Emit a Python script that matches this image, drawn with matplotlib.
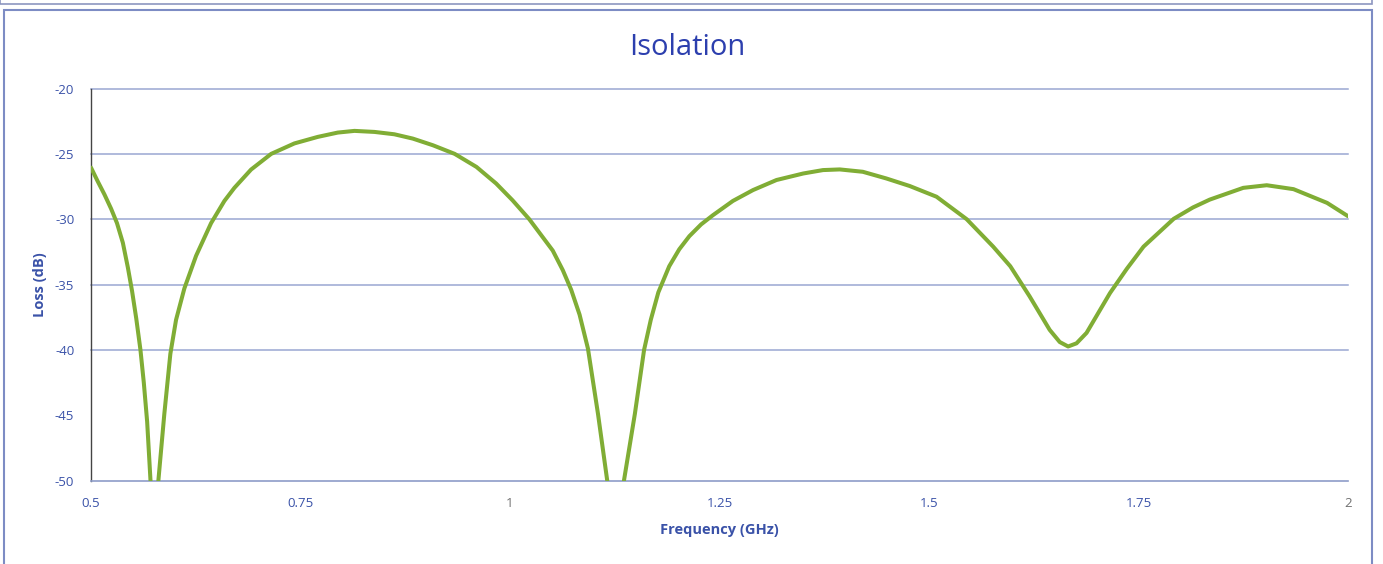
import matplotlib.pyplot as plt
from matplotlib.patches import Rectangle

# values (curve dips below -50 at the two nulls)
freq_ghz = [0.500, 0.508, 0.516, 0.524, 0.531, 0.538, 0.544, 0.549, 0.554, 0.559,
            0.563, 0.567, 0.571, 0.5755, 0.5804, 0.5875, 0.5947, 0.6015, 0.6114, 0.6254,
            0.6433, 0.6592, 0.6711, 0.691, 0.715, 0.7427, 0.7706, 0.7944, 0.8144, 0.8383,
            0.862, 0.884, 0.908, 0.934, 0.960, 0.9835, 1.003, 1.023, 1.051, 1.063,
            1.073, 1.083, 1.093, 1.105, 1.116, 1.126, 1.136, 1.149, 1.160, 1.168,
            1.177, 1.190, 1.202, 1.214, 1.228, 1.242, 1.266, 1.290, 1.318, 1.350,
            1.3735, 1.3935, 1.421, 1.449, 1.477, 1.509, 1.545, 1.5766, 1.597, 1.620,
            1.644, 1.656, 1.666, 1.676, 1.688, 1.716, 1.736, 1.756, 1.792, 1.815,
            1.835, 1.875, 1.903, 1.935, 1.975, 2.000]
loss_db = [-26.05, -27.1, -28.1, -29.2, -30.3, -31.8, -33.7, -35.5, -37.6, -40.0,
           -42.5, -45.5, -50.0, -60.0, -50.0, -44.9, -40.3, -37.7, -35.3, -32.8,
           -30.3, -28.6, -27.6, -26.2, -25.0, -24.2, -23.7, -23.37, -23.24, -23.32,
           -23.5, -23.83, -24.34, -25.0, -26.0, -27.27, -28.55, -30.0, -32.4, -33.9,
           -35.4, -37.3, -39.9, -44.9, -50.0, -60.0, -50.0, -44.9, -40.0, -37.7,
           -35.6, -33.6, -32.3, -31.3, -30.4, -29.7, -28.6, -27.77, -27.0, -26.5,
           -26.24, -26.19, -26.37, -26.88, -27.46, -28.28, -30.0, -32.1, -33.6, -35.9,
           -38.47, -39.4, -39.74, -39.5, -38.7, -35.65, -33.8, -32.1, -29.97, -29.1,
           -28.5, -27.6, -27.4, -27.7, -28.75, -29.77]

x_ticks = [0.5, 0.75, 1, 1.25, 1.5, 1.75, 2]
x_tick_labels = ['0.5', '0.75', '1', '1.25', '1.5', '1.75', '2']
y_ticks = [-50, -45, -40, -35, -30, -25, -20]
grid_levels = [-40, -35, -30, -25, -20]

plt.rcParams['font.family'] = ['Open Sans', 'DejaVu Sans']
plt.rcParams['axes.unicode_minus'] = False

text_blue = '#3a52a8'
fig = plt.figure(figsize=(13.83, 5.64), dpi=100)

# outer chart frame
fig.patches.append(Rectangle((0.003, -0.01), 0.989, 0.992, transform=fig.transFigure,
                             fill=False, edgecolor='#7d8cc4', linewidth=1.5))
fig.patches.append(Rectangle((0.0, 0.993), 0.992, 0.02, transform=fig.transFigure,
                             fill=False, edgecolor='#8c96c0', linewidth=1.2))

ax = fig.add_axes([0.0658, 0.148, 0.9089, 0.695])

for lvl in grid_levels:
    ax.axhline(lvl, color='#9aa7d2', linewidth=1.1, zorder=1, clip_on=False)

ax.plot(freq_ghz, loss_db, color='#80ad35', linewidth=2.9,
        solid_joinstyle='round', solid_capstyle='round', zorder=3)

ax.set_xlim(0.5, 2)
ax.set_ylim(-50, -20)
ax.set_xticks(x_ticks)
ax.set_xticklabels(x_tick_labels)
ax.set_yticks(y_ticks)
ax.tick_params(axis='both', length=0, labelsize=9.5, colors=text_blue)
ax.tick_params(axis='y', pad=12)
ax.tick_params(axis='x', pad=12)
for lbl in ax.get_xticklabels():
    if lbl.get_text() in ('1', '2'):
        lbl.set_color('#707070')

for side in ('top', 'right'):
    ax.spines[side].set_visible(False)
ax.spines['left'].set_color('#444444')
ax.spines['left'].set_linewidth(1.0)
ax.spines['bottom'].set_color('#8d9cc8')
ax.spines['bottom'].set_linewidth(1.2)

ax.set_xlabel('Frequency (GHz)', fontsize=10.5, fontweight='bold', color=text_blue, labelpad=9)
ax.set_ylabel('Loss (dB)', fontsize=10.5, fontweight='bold', color=text_blue, labelpad=6)
fig.text(0.497, 0.915, 'Isolation', fontsize=21, color='#2c3fae', ha='center', va='center')

plt.savefig('out.png', dpi=100)
